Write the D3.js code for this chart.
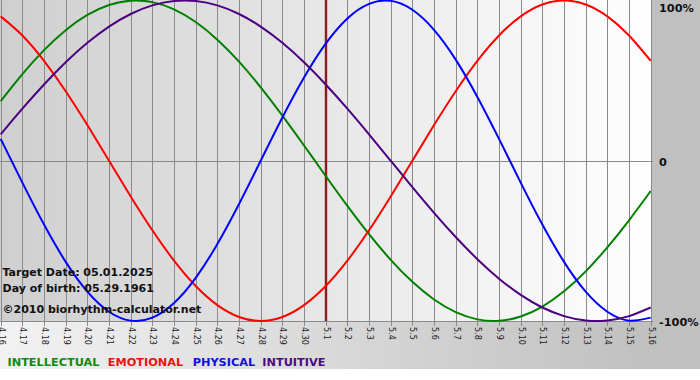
<!DOCTYPE html>
<html>
<head>
<meta charset="utf-8">
<script src="https://cdn.jsdelivr.net/npm/d3@7"></script>
<style>
  html, body { margin: 0; padding: 0; background: #ffffff; }
  svg { display: block; }
</style>
</head>
<body>
<svg id="chart" width="700" height="380"></svg>
<script>
// ---- data ----
const dates = ["4.16","4.17","4.18","4.19","4.20","4.21","4.22","4.23","4.24","4.25",
  "4.26","4.27","4.28","4.29","4.30","5.1","5.2","5.3","5.4","5.5","5.6","5.7","5.8",
  "5.9","5.10","5.11","5.12","5.13","5.14","5.15","5.16"];
const targetDate = "5.1";
const intellectual = [0.3717,0.5406,0.6901,0.8146,0.9096,0.9718,0.9989,0.9898,0.9450,0.8660,
  0.7557,0.6182,0.4582,0.2817,0.0951,-0.0951,-0.2817,-0.4582,-0.6182,-0.7557,-0.8660,-0.9450,
  -0.9898,-0.9989,-0.9718,-0.9096,-0.8146,-0.6901,-0.5406,-0.3717,-0.1893];
const emotional = [0.9010,0.7818,0.6235,0.4339,0.2225,0,-0.2225,-0.4339,-0.6235,-0.7818,
  -0.9010,-0.9749,-1,-0.9749,-0.9010,-0.7818,-0.6235,-0.4339,-0.2225,0,0.2225,0.4339,0.6235,
  0.7818,0.9010,0.9749,1,0.9749,0.9010,0.7818,0.6235];
const physical = [0.1362,-0.1362,-0.3984,-0.6310,-0.8170,-0.9423,-0.9977,-0.9791,-0.8879,
  -0.7308,-0.5196,-0.2698,0,0.2698,0.5196,0.7308,0.8879,0.9791,0.9977,0.9423,0.8170,0.6310,
  0.3984,0.1362,-0.1362,-0.3984,-0.6310,-0.8170,-0.9423,-0.9977,-0.9791];
const intuitive = [0.1646,0.3247,0.4759,0.6142,0.7357,0.8372,0.9158,0.9694,0.9966,0.9966,
  0.9694,0.9158,0.8372,0.7357,0.6142,0.4759,0.3247,0.1646,0,-0.1646,-0.3247,-0.4759,-0.6142,
  -0.7357,-0.8372,-0.9158,-0.9694,-0.9966,-0.9966,-0.9694,-0.9158];
const seriesNames = ["INTELLECTUAL","EMOTIONAL","PHYSICAL","INTUITIVE"];
const yTickValues = [1, 0, -1];
const yTickLabels = ["100%", "0", "-100%"];
const infoLines = ["Target Date: 05.01.2025", "Day of birth: 05.29.1961", "\u00A92010 biorhythm-calculator.net"];

// ---- layout ----
const W = 700, H = 380;
const plotL = 0, plotR = 651, plotT = 0, plotB = 321;
const colors = ["#008000", "#ff0000", "#0000ff", "#4b0082"];
const legendColors = ["#108a10", "#ee1111", "#1010dd", "#4b0a82"];
const legendX = [7.5, 107.7, 192.7, 262.3];
const allSeries = [intellectual, emotional, physical, intuitive];

const svg = d3.select("#chart");
const defs = svg.append("defs");

const outerGrad = defs.append("linearGradient").attr("id", "outerGrad")
  .attr("gradientUnits", "userSpaceOnUse").attr("x1", 0).attr("x2", plotR).attr("y1", 0).attr("y2", 0);
outerGrad.append("stop").attr("offset", 0).attr("stop-color", "#f2f2f2");
outerGrad.append("stop").attr("offset", 1).attr("stop-color", "#c0c0c0");

const plotGrad = defs.append("linearGradient").attr("id", "plotGrad")
  .attr("gradientUnits", "userSpaceOnUse").attr("x1", plotL).attr("x2", plotR).attr("y1", 0).attr("y2", 0);
plotGrad.append("stop").attr("offset", 0).attr("stop-color", "#cfcfcf");
plotGrad.append("stop").attr("offset", 1).attr("stop-color", "#ffffff");

defs.append("clipPath").attr("id", "plotClip").append("rect")
  .attr("x", plotL).attr("y", plotT - 2).attr("width", plotR - plotL).attr("height", plotB - plotT + 4);

// backgrounds
svg.append("rect").attr("x", 0).attr("y", 0).attr("width", W).attr("height", 369).attr("fill", "url(#outerGrad)");
svg.append("rect").attr("x", plotR).attr("y", 0).attr("width", W - plotR).attr("height", 369).attr("fill", "#c0c0c0");
svg.append("rect").attr("x", plotL).attr("y", plotT).attr("width", plotR - plotL).attr("height", plotB - plotT)
  .attr("fill", "url(#plotGrad)");

// scales
const x = d3.scalePoint().domain(dates).range([0.7, 650.7]);
const y = d3.scaleLinear().domain([-1, 1]).range([plotB, plotT + 0.5]);

// vertical grid + bottom ticks
const grid = svg.append("g");
grid.selectAll("line.v").data(dates).join("line")
  .attr("x1", d => Math.round(x(d)) + 0.5).attr("x2", d => Math.round(x(d)) + 0.5)
  .attr("y1", plotT).attr("y2", plotB + 5)
  .attr("stroke", "#8a8a8a").attr("stroke-width", 1);
// horizontal lines
grid.selectAll("line.h").data(yTickValues).join("line")
  .attr("x1", plotL).attr("x2", plotR + 2)
  .attr("y1", d => Math.round(y(d)) + 0.5).attr("y2", d => Math.round(y(d)) + 0.5)
  .attr("stroke", d => d === 1 ? "none" : "#8a8a8a").attr("stroke-width", 1);

// target line
svg.append("line")
  .attr("x1", x(targetDate) + 0.3).attr("x2", x(targetDate) + 0.3)
  .attr("y1", plotT).attr("y2", plotB)
  .attr("stroke", "#8b1c1c").attr("stroke-width", 2.4);

// curves
const line = d3.line().x((d, i) => x(dates[i])).y(d => y(d)).curve(d3.curveNatural);
const curves = svg.append("g").attr("clip-path", "url(#plotClip)");
allSeries.forEach((s, i) => {
  curves.append("path").datum(s).attr("d", line)
    .attr("fill", "none").attr("stroke", colors[i]).attr("stroke-width", 2)
    .attr("stroke-linejoin", "round");
});

// x tick labels (rotated)
svg.append("g").selectAll("text").data(dates).join("text")
  .attr("transform", d => `translate(${Math.round(x(d)) + 0.5},327) rotate(90)`)
  .attr("dominant-baseline", "central")
  .attr("font-family", "'DejaVu Sans', Verdana, sans-serif")
  .attr("font-size", 8)
  .attr("fill", "#1a1a1a")
  .text(d => d);

// y labels
svg.append("g").selectAll("text").data(yTickValues).join("text")
  .attr("x", 659)
  .attr("y", (d, i) => Math.max(y(d) + 5, 11.5))
  .attr("font-family", "'DejaVu Sans', Verdana, sans-serif")
  .attr("font-weight", "bold").attr("font-size", 11.3)
  .attr("fill", "#111")
  .text((d, i) => yTickLabels[i]);

// info text
const infoY = [276, 292, 313];
svg.append("g").selectAll("text").data(infoLines).join("text")
  .attr("x", 2.5).attr("y", (d, i) => infoY[i])
  .attr("font-family", "'DejaVu Sans', Verdana, sans-serif")
  .attr("font-weight", "bold").attr("font-size", 11)
  .attr("fill", "#111")
  .text(d => d);

// legend
svg.append("g").selectAll("text").data(seriesNames).join("text")
  .attr("x", (d, i) => legendX[i]).attr("y", 366)
  .attr("font-family", "'DejaVu Sans', Verdana, sans-serif")
  .attr("font-weight", "bold").attr("font-size", 11.3)
  .attr("fill", (d, i) => legendColors[i])
  .text(d => d);
</script>
</body>
</html>
